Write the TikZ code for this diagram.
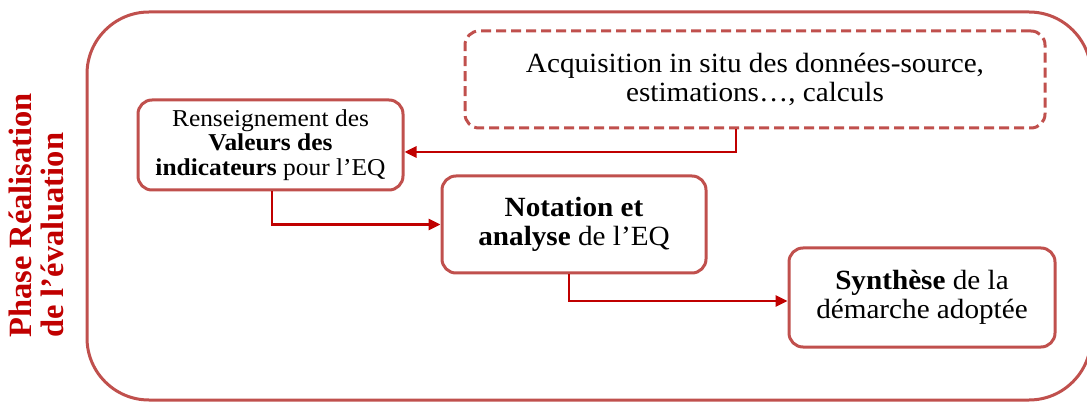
\documentclass[tikz,border=0pt]{standalone}
\usepackage{fontspec}
\setmainfont{Liberation Serif}[FakeStretch=1.05]
\newfontfamily\titlefont{Liberation Serif}
\usetikzlibrary{arrows.meta}
\definecolor{boxred}{RGB}{192,80,77}
\definecolor{linkred}{RGB}{192,0,0}
\tikzset{
  stepbox/.style={draw=boxred, line width=3pt, rounded corners=14pt,
    inner sep=0pt, align=center, text=black,
    font=\fontsize{27.8}{29}\selectfont},
  smallbox/.style={stepbox, font=\fontsize{24.2}{24.5}\selectfont},
  databox/.style={stepbox, dash pattern=on 10pt off 5pt},
  frame/.style={draw=boxred, line width=3pt, rounded corners=62pt},
  link/.style={draw=linkred, line width=2.8pt,
    -{Triangle[length=12pt,width=11pt]}},
  phase/.style={text=linkred, rotate=90, align=left, inner sep=0pt,
    font=\titlefont\bfseries\fontsize{32.5}{32}\selectfont}
}
\begin{document}
\begin{tikzpicture}[x=1pt,y=-1pt]
\useasboundingbox (0,0) rectangle (1087,403);
% outer phase frame
\draw[frame] (87,12) rectangle (1091,400);
% phase title
\node[phase, anchor=north west] (title) at (9,338)
  {Phase Réalisation\\de l’évaluation};
% process steps
\node[databox, minimum width=580pt, minimum height=97pt] (acq) at (755,79.5)
  {Acquisition in situ des données-source,\\estimations…, calculs};
\node[smallbox, minimum width=265pt, minimum height=90pt] (val) at (270.5,145)
  {Renseignement des\\\textbf{Valeurs des}\\\textbf{indicateurs} pour l’EQ};
\node[stepbox, minimum width=264pt, minimum height=97pt] (nota) at (574,224.5)
  {\textbf{Notation et}\\\textbf{analyse} de l’EQ};
\node[stepbox, minimum width=266pt, minimum height=99pt] (synth) at (922,297.5)
  {\textbf{Synthèse} de la\\démarche adoptée};
% connectors
\draw[link] ([xshift=-19pt]acq.south) |- ([yshift=-7pt]val.east);
\draw[link] ([xshift=1.5pt]val.south) |- (nota.west);
\draw[link] ([xshift=-5pt]nota.south) |- ([yshift=-3.5pt]synth.west);
\end{tikzpicture}
\end{document}
